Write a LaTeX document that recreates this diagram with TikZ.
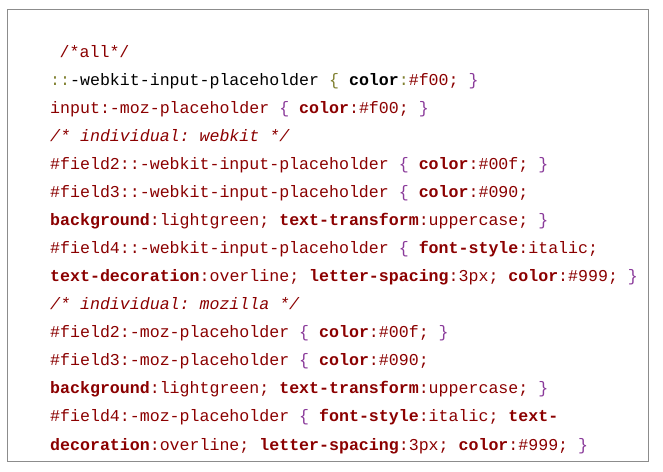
\documentclass[tikz,border=0pt]{standalone}
\usepackage{fontspec}
\setmonofont{Liberation Mono}
\definecolor{cssred}{HTML}{8B0000}
\definecolor{cssbrace}{HTML}{8A3A9A}
\definecolor{cssolive}{HTML}{808030}
\definecolor{framegray}{HTML}{8C8C8C}
\newcommand\cssR[1]{\textcolor{cssred}{#1}}
\newcommand\cssP[1]{\textcolor{cssred}{\bfseries #1}}
\newcommand\cssB[1]{\textcolor{cssbrace}{#1}}
\newcommand\cssO[1]{\textcolor{cssolive}{#1}}
\newcommand\cssK[1]{\textcolor{black}{#1}}
\newcommand\cssI[1]{\textcolor{cssred}{\itshape #1}}
\tikzset{
  codeline/.style={anchor=base west, inner sep=0pt, font=\ttfamily\fontsize{16.6}{20}\selectfont},
  frame/.style={draw=framegray, line width=1pt}
}
\begin{document}
\begin{tikzpicture}[x=1pt,y=-1pt]
\useasboundingbox (0,0) rectangle (663,471);
\fill[white] (0,0) rectangle (663,471);
\draw[frame] (7,9) rectangle (648,461);
\node[codeline] (l1) at (59.5,57) {\cssR{/*all*/}};
\node[codeline] (l2) at (50,85.1) {\cssO{::}\cssK{-webkit-input-placeholder} \cssO{\{} \cssK{\bfseries color}\cssO{:}\cssR{\#f00;} \cssB{\}}};
\node[codeline] (l3) at (50,113.1) {\cssR{input:-moz-placeholder} \cssB{\{} \cssP{color}\cssR{:\#f00;} \cssB{\}}};
\node[codeline] (l4) at (50,141.2) {\cssI{/* individual: webkit */}};
\node[codeline] (l5) at (50,169.3) {\cssR{\#field2::-webkit-input-placeholder} \cssB{\{} \cssP{color}\cssR{:\#00f;} \cssB{\}}};
\node[codeline] (l6) at (50,197.3) {\cssR{\#field3::-webkit-input-placeholder} \cssB{\{} \cssP{color}\cssR{:\#090;}};
\node[codeline] (l7) at (50,225.4) {\cssP{background}\cssR{:lightgreen;} \cssP{text-transform}\cssR{:uppercase;} \cssB{\}}};
\node[codeline] (l8) at (50,253.5) {\cssR{\#field4::-webkit-input-placeholder} \cssB{\{} \cssP{font-style}\cssR{:italic;}};
\node[codeline] (l9) at (50,281.5) {\cssP{text-decoration}\cssR{:overline;} \cssP{letter-spacing}\cssR{:3px;} \cssP{color}\cssR{:\#999;} \cssB{\}}};
\node[codeline] (l10) at (50,309.6) {\cssI{/* individual: mozilla */}};
\node[codeline] (l11) at (50,337.7) {\cssR{\#field2:-moz-placeholder} \cssB{\{} \cssP{color}\cssR{:\#00f;} \cssB{\}}};
\node[codeline] (l12) at (50,365.7) {\cssR{\#field3:-moz-placeholder} \cssB{\{} \cssP{color}\cssR{:\#090;}};
\node[codeline] (l13) at (50,393.8) {\cssP{background}\cssR{:lightgreen;} \cssP{text-transform}\cssR{:uppercase;} \cssB{\}}};
\node[codeline] (l14) at (50,421.9) {\cssR{\#field4:-moz-placeholder} \cssB{\{} \cssP{font-style}\cssR{:italic;} \cssP{text-}};
\node[codeline] (l15) at (50,450) {\cssP{decoration}\cssR{:overline;} \cssP{letter-spacing}\cssR{:3px;} \cssP{color}\cssR{:\#999;} \cssB{\}}};
\end{tikzpicture}
\end{document}
